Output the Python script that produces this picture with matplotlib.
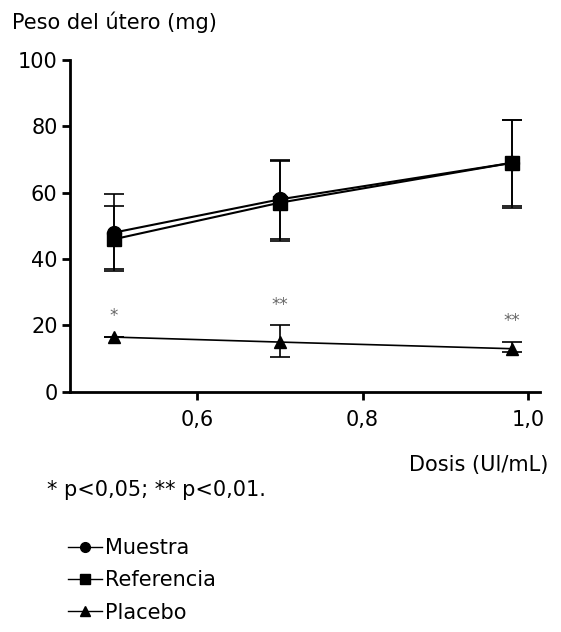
import matplotlib.pyplot as plt
from matplotlib.lines import Line2D
from matplotlib.ticker import FuncFormatter

# Datos
dosis = [0.5, 0.7, 0.98]
muestra = [48, 58, 69]
muestra_sup = [59.5, 70, 82]
muestra_inf = [37, 46, 56]
referencia = [46, 57, 69]
referencia_sup = [56, 69.5, 82]
referencia_inf = [36.5, 45.5, 55.5]
placebo = [16.5, 15, 13]
placebo_sup = [16.5, 20, 15]
placebo_inf = [16.5, 10.5, 12]
significancia = ['*', '**', '**']

fig = plt.figure(figsize=(5.61, 6.32), dpi=100)
ax = fig.add_axes([0.125, 0.38, 0.838, 0.525])

fuente = 15


def barras(x, y, sup, inf):
    err = [[a - b for a, b in zip(y, inf)], [b - a for a, b in zip(y, sup)]]
    ax.errorbar(x, y, yerr=err, fmt='none', ecolor='black', elinewidth=1.2,
                capsize=7, capthick=1.2)


barras(dosis, muestra, muestra_sup, muestra_inf)
barras(dosis, referencia, referencia_sup, referencia_inf)
barras(dosis, placebo, placebo_sup, placebo_inf)

ax.plot(dosis, muestra, '-', color='black', lw=1.5, marker='o', ms=10)
ax.plot(dosis, referencia, '-', color='black', lw=1.5, marker='s', ms=10)
ax.plot(dosis, placebo, '-', color='black', lw=1.2, marker='^', ms=8)

# asteriscos de significancia
for x, y, s in zip(dosis, placebo_sup, significancia):
    ax.text(x, y + 3.5, s, ha='center', va='bottom', fontsize=12, color='#666666')

ax.set_xlim(0.447, 1.0145)
ax.set_ylim(0, 100)
ax.set_xticks([0.6, 0.8, 1.0])
ax.set_yticks([0, 20, 40, 60, 80, 100])
ax.xaxis.set_major_formatter(FuncFormatter(lambda v, p: f'{v:.1f}'.replace('.', ',')))
ax.tick_params(direction='out', length=6, width=2, labelsize=fuente, pad=3)
ax.tick_params(axis='x', pad=7)
for lado in ['top', 'right']:
    ax.spines[lado].set_visible(False)
for lado in ['left', 'bottom']:
    ax.spines[lado].set_linewidth(2)

fig.text(12 / 561, 1 - 22 / 632, 'Peso del útero (mg)', fontsize=fuente,
         ha='left', va='center')
fig.text(548 / 561, 1 - 465 / 632, 'Dosis (Ul/mL)', fontsize=fuente,
         ha='right', va='center')
fig.text(47 / 561, 1 - 490 / 632, '* p<0,05; ** p<0,01.', fontsize=fuente,
         ha='left', va='center')

# leyenda
entradas = [
    Line2D([], [], color='black', lw=1, marker='o', ms=7),
    Line2D([], [], color='black', lw=1, marker='s', ms=7),
    Line2D([], [], color='black', lw=1, marker='^', ms=7),
]
fig.legend(entradas, ['Muestra', 'Referencia', 'Placebo'],
           loc='upper left', bbox_to_anchor=(58 / 561, 1 - 528 / 632),
           frameon=False, fontsize=fuente, handlelength=1.6,
           handletextpad=0.15, labelspacing=0.58, borderpad=0)

fig.savefig('out.png', dpi=100)
